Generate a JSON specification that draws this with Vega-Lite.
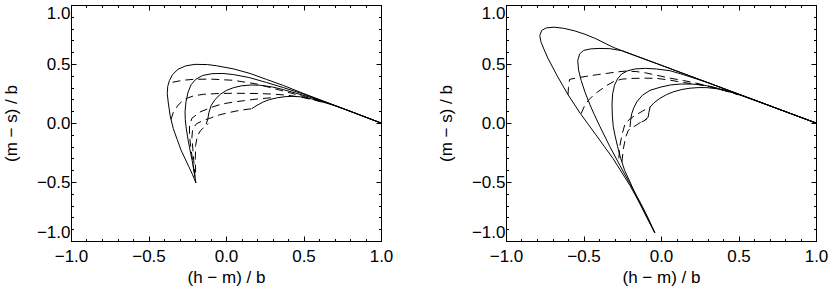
{
  "$schema": "https://vega.github.io/schema/vega-lite/v6.json",
  "autosize": {"type": "pad"},
  "padding": {"left": 1, "top": 3, "right": 5, "bottom": 0},
  "bounds": "flush",
  "spacing": 125,
  "config": {
    "view": {"stroke": "black", "strokeWidth": 1},
    "axis": {
      "labelFont": "Liberation Sans", "labelFontSize": 17, "labelColor": "black",
      "titleFont": "Liberation Sans", "titleFontSize": 17, "titleFontWeight": "normal", "titleColor": "black",
      "domainColor": "black", "tickColor": "black", "domainWidth": 1, "tickWidth": 1,
      "grid": false, "labelOverlap": false
    }
  },
  "data": {"values": [
    {"p":"L","c":"LA","s":"solid","i":0,"x":-0.194,"y":-0.508},
    {"p":"L","c":"LA","s":"solid","i":1,"x":-0.215,"y":-0.44},
    {"p":"L","c":"LA","s":"solid","i":2,"x":-0.24,"y":-0.37},
    {"p":"L","c":"LA","s":"solid","i":3,"x":-0.265,"y":-0.3},
    {"p":"L","c":"LA","s":"solid","i":4,"x":-0.29,"y":-0.23},
    {"p":"L","c":"LA","s":"solid","i":5,"x":-0.315,"y":-0.14},
    {"p":"L","c":"LA","s":"solid","i":6,"x":-0.34,"y":-0.048},
    {"p":"L","c":"LA","s":"solid","i":7,"x":-0.36,"y":0.06},
    {"p":"L","c":"LA","s":"solid","i":8,"x":-0.373,"y":0.178},
    {"p":"L","c":"LA","s":"solid","i":9,"x":-0.379,"y":0.25},
    {"p":"L","c":"LA","s":"solid","i":10,"x":-0.376,"y":0.31},
    {"p":"L","c":"LA","s":"solid","i":11,"x":-0.365,"y":0.36},
    {"p":"L","c":"LA","s":"solid","i":12,"x":-0.345,"y":0.41},
    {"p":"L","c":"LA","s":"solid","i":13,"x":-0.31,"y":0.455},
    {"p":"L","c":"LA","s":"solid","i":14,"x":-0.26,"y":0.484},
    {"p":"L","c":"LA","s":"solid","i":15,"x":-0.2,"y":0.497},
    {"p":"L","c":"LA","s":"solid","i":16,"x":-0.12,"y":0.495},
    {"p":"L","c":"LA","s":"solid","i":17,"x":-0.06,"y":0.485},
    {"p":"L","c":"LA","s":"solid","i":18,"x":0.05,"y":0.458},
    {"p":"L","c":"LA","s":"solid","i":19,"x":0.155,"y":0.42},
    {"p":"L","c":"LA","s":"solid","i":20,"x":0.26,"y":0.37},
    {"p":"L","c":"LA","s":"solid","i":21,"x":0.37,"y":0.318},
    {"p":"L","c":"LA","s":"solid","i":22,"x":0.5,"y":0.25},
    {"p":"L","c":"LA","s":"solid","i":23,"x":0.6,"y":0.2},
    {"p":"L","c":"LA","s":"solid","i":24,"x":0.8,"y":0.1},
    {"p":"L","c":"LA","s":"solid","i":25,"x":1.0,"y":0.0},

    {"p":"L","c":"LB","s":"solid","i":0,"x":-0.194,"y":-0.508},
    {"p":"L","c":"LB","s":"solid","i":1,"x":-0.205,"y":-0.42},
    {"p":"L","c":"LB","s":"solid","i":2,"x":-0.218,"y":-0.32},
    {"p":"L","c":"LB","s":"solid","i":3,"x":-0.232,"y":-0.23},
    {"p":"L","c":"LB","s":"solid","i":4,"x":-0.245,"y":-0.14},
    {"p":"L","c":"LB","s":"solid","i":5,"x":-0.256,"y":-0.05},
    {"p":"L","c":"LB","s":"solid","i":6,"x":-0.263,"y":0.03},
    {"p":"L","c":"LB","s":"solid","i":7,"x":-0.264,"y":0.1},
    {"p":"L","c":"LB","s":"solid","i":8,"x":-0.258,"y":0.18},
    {"p":"L","c":"LB","s":"solid","i":9,"x":-0.245,"y":0.26},
    {"p":"L","c":"LB","s":"solid","i":10,"x":-0.225,"y":0.325},
    {"p":"L","c":"LB","s":"solid","i":11,"x":-0.195,"y":0.37},
    {"p":"L","c":"LB","s":"solid","i":12,"x":-0.15,"y":0.403},
    {"p":"L","c":"LB","s":"solid","i":13,"x":-0.09,"y":0.418},
    {"p":"L","c":"LB","s":"solid","i":14,"x":-0.02,"y":0.42},
    {"p":"L","c":"LB","s":"solid","i":15,"x":0.05,"y":0.41},
    {"p":"L","c":"LB","s":"solid","i":16,"x":0.15,"y":0.385},
    {"p":"L","c":"LB","s":"solid","i":17,"x":0.262,"y":0.343},
    {"p":"L","c":"LB","s":"solid","i":18,"x":0.37,"y":0.3},
    {"p":"L","c":"LB","s":"solid","i":19,"x":0.477,"y":0.255},
    {"p":"L","c":"LB","s":"solid","i":20,"x":0.6,"y":0.198},
    {"p":"L","c":"LB","s":"solid","i":21,"x":0.75,"y":0.125},
    {"p":"L","c":"LB","s":"solid","i":22,"x":1.0,"y":0.0},

    {"p":"L","c":"LC","s":"solid","i":0,"x":-0.128,"y":-0.01},
    {"p":"L","c":"LC","s":"solid","i":1,"x":-0.118,"y":0.03},
    {"p":"L","c":"LC","s":"solid","i":2,"x":-0.11,"y":0.09},
    {"p":"L","c":"LC","s":"solid","i":3,"x":-0.095,"y":0.15},
    {"p":"L","c":"LC","s":"solid","i":4,"x":-0.07,"y":0.2},
    {"p":"L","c":"LC","s":"solid","i":5,"x":-0.035,"y":0.245},
    {"p":"L","c":"LC","s":"solid","i":6,"x":0.004,"y":0.277},
    {"p":"L","c":"LC","s":"solid","i":7,"x":0.05,"y":0.3},
    {"p":"L","c":"LC","s":"solid","i":8,"x":0.1,"y":0.315},
    {"p":"L","c":"LC","s":"solid","i":9,"x":0.16,"y":0.322},
    {"p":"L","c":"LC","s":"solid","i":10,"x":0.22,"y":0.32},
    {"p":"L","c":"LC","s":"solid","i":11,"x":0.3,"y":0.305},
    {"p":"L","c":"LC","s":"solid","i":12,"x":0.37,"y":0.283},
    {"p":"L","c":"LC","s":"solid","i":13,"x":0.45,"y":0.253},
    {"p":"L","c":"LC","s":"solid","i":14,"x":0.55,"y":0.215},
    {"p":"L","c":"LC","s":"solid","i":15,"x":0.65,"y":0.172},
    {"p":"L","c":"LC","s":"solid","i":16,"x":0.8,"y":0.1},
    {"p":"L","c":"LC","s":"solid","i":17,"x":1.0,"y":0.0},

    {"p":"L","c":"LD","s":"solid","i":0,"x":0.166,"y":0.121},
    {"p":"L","c":"LD","s":"solid","i":1,"x":0.2,"y":0.15},
    {"p":"L","c":"LD","s":"solid","i":2,"x":0.24,"y":0.178},
    {"p":"L","c":"LD","s":"solid","i":3,"x":0.28,"y":0.198},
    {"p":"L","c":"LD","s":"solid","i":4,"x":0.327,"y":0.213},
    {"p":"L","c":"LD","s":"solid","i":5,"x":0.38,"y":0.223},
    {"p":"L","c":"LD","s":"solid","i":6,"x":0.43,"y":0.226},
    {"p":"L","c":"LD","s":"solid","i":7,"x":0.48,"y":0.222},
    {"p":"L","c":"LD","s":"solid","i":8,"x":0.55,"y":0.205},
    {"p":"L","c":"LD","s":"solid","i":9,"x":0.61,"y":0.183},
    {"p":"L","c":"LD","s":"solid","i":10,"x":0.7,"y":0.148},
    {"p":"L","c":"LD","s":"solid","i":11,"x":0.8,"y":0.1},
    {"p":"L","c":"LD","s":"solid","i":12,"x":1.0,"y":0.0},

    {"p":"L","c":"Ld1","s":"dashed","i":0,"x":-0.345,"y":0.345},
    {"p":"L","c":"Ld1","s":"dashed","i":1,"x":-0.28,"y":0.362},
    {"p":"L","c":"Ld1","s":"dashed","i":2,"x":-0.211,"y":0.37},
    {"p":"L","c":"Ld1","s":"dashed","i":3,"x":-0.1,"y":0.372},
    {"p":"L","c":"Ld1","s":"dashed","i":4,"x":0.047,"y":0.362},
    {"p":"L","c":"Ld1","s":"dashed","i":5,"x":0.2,"y":0.33},
    {"p":"L","c":"Ld1","s":"dashed","i":6,"x":0.3,"y":0.295},
    {"p":"L","c":"Ld1","s":"dashed","i":7,"x":0.4,"y":0.26},
    {"p":"L","c":"Ld1","s":"dashed","i":8,"x":0.5,"y":0.225},
    {"p":"L","c":"Ld1","s":"dashed","i":9,"x":0.62,"y":0.182},

    {"p":"L","c":"Ld2","s":"dashed","i":0,"x":-0.355,"y":0.03},
    {"p":"L","c":"Ld2","s":"dashed","i":1,"x":-0.34,"y":0.09},
    {"p":"L","c":"Ld2","s":"dashed","i":2,"x":-0.31,"y":0.15},
    {"p":"L","c":"Ld2","s":"dashed","i":3,"x":-0.27,"y":0.2},
    {"p":"L","c":"Ld2","s":"dashed","i":4,"x":-0.21,"y":0.23},
    {"p":"L","c":"Ld2","s":"dashed","i":5,"x":-0.146,"y":0.243},
    {"p":"L","c":"Ld2","s":"dashed","i":6,"x":-0.05,"y":0.25},
    {"p":"L","c":"Ld2","s":"dashed","i":7,"x":0.047,"y":0.252},
    {"p":"L","c":"Ld2","s":"dashed","i":8,"x":0.2,"y":0.25},
    {"p":"L","c":"Ld2","s":"dashed","i":9,"x":0.3,"y":0.245},
    {"p":"L","c":"Ld2","s":"dashed","i":10,"x":0.4,"y":0.235},
    {"p":"L","c":"Ld2","s":"dashed","i":11,"x":0.5,"y":0.215},
    {"p":"L","c":"Ld2","s":"dashed","i":12,"x":0.62,"y":0.178},

    {"p":"L","c":"Ld3","s":"dashed","i":0,"x":-0.205,"y":-0.42},
    {"p":"L","c":"Ld3","s":"dashed","i":1,"x":-0.215,"y":-0.32},
    {"p":"L","c":"Ld3","s":"dashed","i":2,"x":-0.228,"y":-0.2},
    {"p":"L","c":"Ld3","s":"dashed","i":3,"x":-0.236,"y":-0.1},
    {"p":"L","c":"Ld3","s":"dashed","i":4,"x":-0.235,"y":-0.02},
    {"p":"L","c":"Ld3","s":"dashed","i":5,"x":-0.22,"y":0.04},
    {"p":"L","c":"Ld3","s":"dashed","i":6,"x":-0.168,"y":0.093},
    {"p":"L","c":"Ld3","s":"dashed","i":7,"x":-0.1,"y":0.13},
    {"p":"L","c":"Ld3","s":"dashed","i":8,"x":-0.03,"y":0.16},
    {"p":"L","c":"Ld3","s":"dashed","i":9,"x":0.05,"y":0.178},
    {"p":"L","c":"Ld3","s":"dashed","i":10,"x":0.12,"y":0.19},
    {"p":"L","c":"Ld3","s":"dashed","i":11,"x":0.2,"y":0.203},
    {"p":"L","c":"Ld3","s":"dashed","i":12,"x":0.3,"y":0.215},

    {"p":"L","c":"Ld4","s":"dashed","i":0,"x":-0.2,"y":-0.46},
    {"p":"L","c":"Ld4","s":"dashed","i":1,"x":-0.207,"y":-0.34},
    {"p":"L","c":"Ld4","s":"dashed","i":2,"x":-0.214,"y":-0.22},
    {"p":"L","c":"Ld4","s":"dashed","i":3,"x":-0.22,"y":-0.12},
    {"p":"L","c":"Ld4","s":"dashed","i":4,"x":-0.215,"y":-0.05},
    {"p":"L","c":"Ld4","s":"dashed","i":5,"x":-0.19,"y":-0.006},
    {"p":"L","c":"Ld4","s":"dashed","i":6,"x":-0.146,"y":0.022},
    {"p":"L","c":"Ld4","s":"dashed","i":7,"x":-0.1,"y":0.042},
    {"p":"L","c":"Ld4","s":"dashed","i":8,"x":-0.04,"y":0.07},
    {"p":"L","c":"Ld4","s":"dashed","i":9,"x":0.025,"y":0.09},
    {"p":"L","c":"Ld4","s":"dashed","i":10,"x":0.09,"y":0.108},
    {"p":"L","c":"Ld4","s":"dashed","i":11,"x":0.166,"y":0.121},

    {"p":"L","c":"Ld5","s":"dashed","i":0,"x":-0.196,"y":-0.42},
    {"p":"L","c":"Ld5","s":"dashed","i":1,"x":-0.198,"y":-0.3},
    {"p":"L","c":"Ld5","s":"dashed","i":2,"x":-0.196,"y":-0.19},
    {"p":"L","c":"Ld5","s":"dashed","i":3,"x":-0.185,"y":-0.11},
    {"p":"L","c":"Ld5","s":"dashed","i":4,"x":-0.165,"y":-0.065},
    {"p":"L","c":"Ld5","s":"dashed","i":5,"x":-0.14,"y":-0.035},
    {"p":"L","c":"Ld5","s":"dashed","i":6,"x":-0.114,"y":-0.006},

    {"p":"R","c":"RA","s":"solid","i":0,"x":-0.04,"y":-0.93},
    {"p":"R","c":"RA","s":"solid","i":1,"x":-0.08,"y":-0.825},
    {"p":"R","c":"RA","s":"solid","i":2,"x":-0.12,"y":-0.72},
    {"p":"R","c":"RA","s":"solid","i":3,"x":-0.16,"y":-0.625},
    {"p":"R","c":"RA","s":"solid","i":4,"x":-0.2,"y":-0.53},
    {"p":"R","c":"RA","s":"solid","i":5,"x":-0.255,"y":-0.415},
    {"p":"R","c":"RA","s":"solid","i":6,"x":-0.31,"y":-0.3},
    {"p":"R","c":"RA","s":"solid","i":7,"x":-0.365,"y":-0.2},
    {"p":"R","c":"RA","s":"solid","i":8,"x":-0.42,"y":-0.1},
    {"p":"R","c":"RA","s":"solid","i":9,"x":-0.47,"y":-0.01},
    {"p":"R","c":"RA","s":"solid","i":10,"x":-0.52,"y":0.08},
    {"p":"R","c":"RA","s":"solid","i":11,"x":-0.56,"y":0.16},
    {"p":"R","c":"RA","s":"solid","i":12,"x":-0.6,"y":0.24},
    {"p":"R","c":"RA","s":"solid","i":13,"x":-0.635,"y":0.32},
    {"p":"R","c":"RA","s":"solid","i":14,"x":-0.67,"y":0.4},
    {"p":"R","c":"RA","s":"solid","i":15,"x":-0.7,"y":0.475},
    {"p":"R","c":"RA","s":"solid","i":16,"x":-0.73,"y":0.55},
    {"p":"R","c":"RA","s":"solid","i":17,"x":-0.755,"y":0.625},
    {"p":"R","c":"RA","s":"solid","i":18,"x":-0.775,"y":0.69},
    {"p":"R","c":"RA","s":"solid","i":19,"x":-0.782,"y":0.74},
    {"p":"R","c":"RA","s":"solid","i":20,"x":-0.77,"y":0.785},
    {"p":"R","c":"RA","s":"solid","i":21,"x":-0.74,"y":0.806},
    {"p":"R","c":"RA","s":"solid","i":22,"x":-0.69,"y":0.812},
    {"p":"R","c":"RA","s":"solid","i":23,"x":-0.63,"y":0.803},
    {"p":"R","c":"RA","s":"solid","i":24,"x":-0.56,"y":0.782},
    {"p":"R","c":"RA","s":"solid","i":25,"x":-0.49,"y":0.752},
    {"p":"R","c":"RA","s":"solid","i":26,"x":-0.42,"y":0.714},
    {"p":"R","c":"RA","s":"solid","i":27,"x":-0.35,"y":0.668},
    {"p":"R","c":"RA","s":"solid","i":28,"x":-0.3,"y":0.637},
    {"p":"R","c":"RA","s":"solid","i":29,"x":-0.254,"y":0.614},
    {"p":"R","c":"RA","s":"solid","i":30,"x":0.0,"y":0.49},
    {"p":"R","c":"RA","s":"solid","i":31,"x":0.5,"y":0.245},
    {"p":"R","c":"RA","s":"solid","i":32,"x":1.0,"y":0.0},

    {"p":"R","c":"RB","s":"solid","i":0,"x":-0.04,"y":-0.93},
    {"p":"R","c":"RB","s":"solid","i":1,"x":-0.085,"y":-0.8},
    {"p":"R","c":"RB","s":"solid","i":2,"x":-0.135,"y":-0.67},
    {"p":"R","c":"RB","s":"solid","i":3,"x":-0.2,"y":-0.515},
    {"p":"R","c":"RB","s":"solid","i":4,"x":-0.265,"y":-0.36},
    {"p":"R","c":"RB","s":"solid","i":5,"x":-0.33,"y":-0.2},
    {"p":"R","c":"RB","s":"solid","i":6,"x":-0.394,"y":-0.03},
    {"p":"R","c":"RB","s":"solid","i":7,"x":-0.43,"y":0.07},
    {"p":"R","c":"RB","s":"solid","i":8,"x":-0.46,"y":0.16},
    {"p":"R","c":"RB","s":"solid","i":9,"x":-0.49,"y":0.26},
    {"p":"R","c":"RB","s":"solid","i":10,"x":-0.515,"y":0.36},
    {"p":"R","c":"RB","s":"solid","i":11,"x":-0.532,"y":0.45},
    {"p":"R","c":"RB","s":"solid","i":12,"x":-0.537,"y":0.53},
    {"p":"R","c":"RB","s":"solid","i":13,"x":-0.525,"y":0.585},
    {"p":"R","c":"RB","s":"solid","i":14,"x":-0.5,"y":0.615},
    {"p":"R","c":"RB","s":"solid","i":15,"x":-0.455,"y":0.628},
    {"p":"R","c":"RB","s":"solid","i":16,"x":-0.4,"y":0.632},
    {"p":"R","c":"RB","s":"solid","i":17,"x":-0.33,"y":0.63},
    {"p":"R","c":"RB","s":"solid","i":18,"x":-0.254,"y":0.613},
    {"p":"R","c":"RB","s":"solid","i":19,"x":0.0,"y":0.49},
    {"p":"R","c":"RB","s":"solid","i":20,"x":0.5,"y":0.245},
    {"p":"R","c":"RB","s":"solid","i":21,"x":1.0,"y":0.0},

    {"p":"R","c":"RC","s":"solid","i":0,"x":-0.04,"y":-0.93},
    {"p":"R","c":"RC","s":"solid","i":1,"x":-0.092,"y":-0.8},
    {"p":"R","c":"RC","s":"solid","i":2,"x":-0.145,"y":-0.66},
    {"p":"R","c":"RC","s":"solid","i":3,"x":-0.2,"y":-0.5},
    {"p":"R","c":"RC","s":"solid","i":4,"x":-0.235,"y":-0.4},
    {"p":"R","c":"RC","s":"solid","i":5,"x":-0.26,"y":-0.3},
    {"p":"R","c":"RC","s":"solid","i":6,"x":-0.28,"y":-0.2},
    {"p":"R","c":"RC","s":"solid","i":7,"x":-0.296,"y":-0.11},
    {"p":"R","c":"RC","s":"solid","i":8,"x":-0.308,"y":-0.03},
    {"p":"R","c":"RC","s":"solid","i":9,"x":-0.314,"y":0.06},
    {"p":"R","c":"RC","s":"solid","i":10,"x":-0.316,"y":0.16},
    {"p":"R","c":"RC","s":"solid","i":11,"x":-0.312,"y":0.248},
    {"p":"R","c":"RC","s":"solid","i":12,"x":-0.3,"y":0.32},
    {"p":"R","c":"RC","s":"solid","i":13,"x":-0.28,"y":0.375},
    {"p":"R","c":"RC","s":"solid","i":14,"x":-0.254,"y":0.415},
    {"p":"R","c":"RC","s":"solid","i":15,"x":-0.215,"y":0.443},
    {"p":"R","c":"RC","s":"solid","i":16,"x":-0.168,"y":0.458},
    {"p":"R","c":"RC","s":"solid","i":17,"x":-0.1,"y":0.463},
    {"p":"R","c":"RC","s":"solid","i":18,"x":-0.03,"y":0.458},
    {"p":"R","c":"RC","s":"solid","i":19,"x":0.058,"y":0.443},
    {"p":"R","c":"RC","s":"solid","i":20,"x":0.144,"y":0.41},
    {"p":"R","c":"RC","s":"solid","i":21,"x":0.3,"y":0.343},
    {"p":"R","c":"RC","s":"solid","i":22,"x":0.5,"y":0.245},
    {"p":"R","c":"RC","s":"solid","i":23,"x":1.0,"y":0.0},

    {"p":"R","c":"RD","s":"solid","i":0,"x":-0.2,"y":-0.034},
    {"p":"R","c":"RD","s":"solid","i":1,"x":-0.196,"y":0.02},
    {"p":"R","c":"RD","s":"solid","i":2,"x":-0.189,"y":0.079},
    {"p":"R","c":"RD","s":"solid","i":3,"x":-0.175,"y":0.13},
    {"p":"R","c":"RD","s":"solid","i":4,"x":-0.157,"y":0.178},
    {"p":"R","c":"RD","s":"solid","i":5,"x":-0.12,"y":0.235},
    {"p":"R","c":"RD","s":"solid","i":6,"x":-0.071,"y":0.277},
    {"p":"R","c":"RD","s":"solid","i":7,"x":0.0,"y":0.305},
    {"p":"R","c":"RD","s":"solid","i":8,"x":0.06,"y":0.322},
    {"p":"R","c":"RD","s":"solid","i":9,"x":0.123,"y":0.33},
    {"p":"R","c":"RD","s":"solid","i":10,"x":0.2,"y":0.33},
    {"p":"R","c":"RD","s":"solid","i":11,"x":0.27,"y":0.322},
    {"p":"R","c":"RD","s":"solid","i":12,"x":0.35,"y":0.3},
    {"p":"R","c":"RD","s":"solid","i":13,"x":0.43,"y":0.27},
    {"p":"R","c":"RD","s":"solid","i":14,"x":0.51,"y":0.238},
    {"p":"R","c":"RD","s":"solid","i":15,"x":1.0,"y":0.0},

    {"p":"R","c":"RE","s":"solid","i":0,"x":-0.125,"y":0.008},
    {"p":"R","c":"RE","s":"solid","i":1,"x":-0.1,"y":0.025},
    {"p":"R","c":"RE","s":"solid","i":2,"x":-0.083,"y":0.05},
    {"p":"R","c":"RE","s":"solid","i":3,"x":-0.078,"y":0.09},
    {"p":"R","c":"RE","s":"solid","i":4,"x":-0.07,"y":0.135},
    {"p":"R","c":"RE","s":"solid","i":5,"x":-0.045,"y":0.172},
    {"p":"R","c":"RE","s":"solid","i":6,"x":-0.006,"y":0.21},
    {"p":"R","c":"RE","s":"solid","i":7,"x":0.035,"y":0.24},
    {"p":"R","c":"RE","s":"solid","i":8,"x":0.079,"y":0.264},
    {"p":"R","c":"RE","s":"solid","i":9,"x":0.135,"y":0.284},
    {"p":"R","c":"RE","s":"solid","i":10,"x":0.187,"y":0.295},
    {"p":"R","c":"RE","s":"solid","i":11,"x":0.24,"y":0.3},
    {"p":"R","c":"RE","s":"solid","i":12,"x":0.295,"y":0.3},
    {"p":"R","c":"RE","s":"solid","i":13,"x":0.36,"y":0.29},
    {"p":"R","c":"RE","s":"solid","i":14,"x":0.42,"y":0.273},
    {"p":"R","c":"RE","s":"solid","i":15,"x":0.467,"y":0.256},
    {"p":"R","c":"RE","s":"solid","i":16,"x":0.53,"y":0.228},
    {"p":"R","c":"RE","s":"solid","i":17,"x":0.6,"y":0.196},
    {"p":"R","c":"RE","s":"solid","i":18,"x":1.0,"y":0.0},

    {"p":"R","c":"Rd1","s":"dashed","i":0,"x":-0.6,"y":0.24},
    {"p":"R","c":"Rd1","s":"dashed","i":1,"x":-0.597,"y":0.3},
    {"p":"R","c":"Rd1","s":"dashed","i":2,"x":-0.59,"y":0.37},
    {"p":"R","c":"Rd1","s":"dashed","i":3,"x":-0.53,"y":0.385},
    {"p":"R","c":"Rd1","s":"dashed","i":4,"x":-0.47,"y":0.398},
    {"p":"R","c":"Rd1","s":"dashed","i":5,"x":-0.41,"y":0.41},
    {"p":"R","c":"Rd1","s":"dashed","i":6,"x":-0.35,"y":0.42},
    {"p":"R","c":"Rd1","s":"dashed","i":7,"x":-0.29,"y":0.432},
    {"p":"R","c":"Rd1","s":"dashed","i":8,"x":-0.23,"y":0.44},
    {"p":"R","c":"Rd1","s":"dashed","i":9,"x":-0.16,"y":0.436},
    {"p":"R","c":"Rd1","s":"dashed","i":10,"x":-0.1,"y":0.425},
    {"p":"R","c":"Rd1","s":"dashed","i":11,"x":-0.028,"y":0.405},
    {"p":"R","c":"Rd1","s":"dashed","i":12,"x":0.05,"y":0.382},
    {"p":"R","c":"Rd1","s":"dashed","i":13,"x":0.144,"y":0.36},
    {"p":"R","c":"Rd1","s":"dashed","i":14,"x":0.22,"y":0.34},
    {"p":"R","c":"Rd1","s":"dashed","i":15,"x":0.3,"y":0.315},
    {"p":"R","c":"Rd1","s":"dashed","i":16,"x":0.4,"y":0.28},
    {"p":"R","c":"Rd1","s":"dashed","i":17,"x":0.5,"y":0.24},

    {"p":"R","c":"Rd2","s":"dashed","i":0,"x":-0.515,"y":0.08},
    {"p":"R","c":"Rd2","s":"dashed","i":1,"x":-0.495,"y":0.14},
    {"p":"R","c":"Rd2","s":"dashed","i":2,"x":-0.469,"y":0.192},
    {"p":"R","c":"Rd2","s":"dashed","i":3,"x":-0.44,"y":0.23},
    {"p":"R","c":"Rd2","s":"dashed","i":4,"x":-0.41,"y":0.262},
    {"p":"R","c":"Rd2","s":"dashed","i":5,"x":-0.35,"y":0.318},
    {"p":"R","c":"Rd2","s":"dashed","i":6,"x":-0.3,"y":0.355},
    {"p":"R","c":"Rd2","s":"dashed","i":7,"x":-0.25,"y":0.372},
    {"p":"R","c":"Rd2","s":"dashed","i":8,"x":-0.18,"y":0.378},
    {"p":"R","c":"Rd2","s":"dashed","i":9,"x":-0.1,"y":0.38},
    {"p":"R","c":"Rd2","s":"dashed","i":10,"x":-0.028,"y":0.378},
    {"p":"R","c":"Rd2","s":"dashed","i":11,"x":0.05,"y":0.365},
    {"p":"R","c":"Rd2","s":"dashed","i":12,"x":0.144,"y":0.343},
    {"p":"R","c":"Rd2","s":"dashed","i":13,"x":0.22,"y":0.33},
    {"p":"R","c":"Rd2","s":"dashed","i":14,"x":0.3,"y":0.312},
    {"p":"R","c":"Rd2","s":"dashed","i":15,"x":0.4,"y":0.278},
    {"p":"R","c":"Rd2","s":"dashed","i":16,"x":0.5,"y":0.24},

    {"p":"R","c":"Rd3","s":"dashed","i":0,"x":-0.272,"y":-0.3},
    {"p":"R","c":"Rd3","s":"dashed","i":1,"x":-0.266,"y":-0.2},
    {"p":"R","c":"Rd3","s":"dashed","i":2,"x":-0.252,"y":-0.1},
    {"p":"R","c":"Rd3","s":"dashed","i":3,"x":-0.232,"y":-0.006},
    {"p":"R","c":"Rd3","s":"dashed","i":4,"x":-0.2,"y":0.035},
    {"p":"R","c":"Rd3","s":"dashed","i":5,"x":-0.16,"y":0.07},
    {"p":"R","c":"Rd3","s":"dashed","i":6,"x":-0.12,"y":0.1},
    {"p":"R","c":"Rd3","s":"dashed","i":7,"x":-0.071,"y":0.136},

    {"p":"R","c":"Rd4","s":"dashed","i":0,"x":-0.252,"y":-0.33},
    {"p":"R","c":"Rd4","s":"dashed","i":1,"x":-0.243,"y":-0.22},
    {"p":"R","c":"Rd4","s":"dashed","i":2,"x":-0.228,"y":-0.12},
    {"p":"R","c":"Rd4","s":"dashed","i":3,"x":-0.211,"y":-0.062},
    {"p":"R","c":"Rd4","s":"dashed","i":4,"x":-0.18,"y":-0.035},
    {"p":"R","c":"Rd4","s":"dashed","i":5,"x":-0.15,"y":-0.01},
    {"p":"R","c":"Rd4","s":"dashed","i":6,"x":-0.12,"y":0.015},
    {"p":"R","c":"Rd4","s":"dashed","i":7,"x":-0.092,"y":0.036}
  ]},
  "hconcat": [
    {
      "width": 310, "height": 236,
      "transform": [{"filter": "datum.p == 'L'"}],
      "layer": [
        {
          "transform": [{"filter": "datum.s == 'solid'"}],
          "mark": {"type": "line", "color": "black", "strokeWidth": 1},
          "encoding": {
            "x": {"field": "x", "type": "quantitative", "scale": {"domain": [-1, 1], "nice": false, "zero": false},
              "axis": {"orient": "bottom", "title": "(h − m) / b", "values": [-1,-0.9,-0.8,-0.7,-0.6,-0.5,-0.4,-0.3,-0.2,-0.1,0,0.1,0.2,0.3,0.4,0.5,0.6,0.7,0.8,0.9,1],
                "labelExpr": "abs(datum.value*2-round(datum.value*2))<0.001 ? format(datum.value,'.1f') : ''",
                "tickSize": {"condition": {"test": "abs(datum.value*2-round(datum.value*2))<0.001", "value": -5}, "value": -2.5},
                "labelFlush": false, "labelPadding": 12, "titlePadding": 3}},
            "y": {"field": "y", "type": "quantitative", "scale": {"domain": [-1, 1], "nice": false, "zero": false},
              "axis": {"orient": "left", "title": "(m − s) / b", "values": [-1,-0.9,-0.8,-0.7,-0.6,-0.5,-0.4,-0.3,-0.2,-0.1,0,0.1,0.2,0.3,0.4,0.5,0.6,0.7,0.8,0.9,1],
                "labelExpr": "abs(datum.value*2-round(datum.value*2))<0.001 ? format(datum.value,'.1f') : ''",
                "tickSize": {"condition": {"test": "abs(datum.value*2-round(datum.value*2))<0.001", "value": -5}, "value": -2.5},
                "labelFlush": true, "labelPadding": 6, "titlePadding": 16}},
            "detail": {"field": "c"},
            "order": {"field": "i", "type": "quantitative"}
          }
        },
        {
          "transform": [{"filter": "datum.s == 'dashed'"}],
          "mark": {"type": "line", "color": "black", "strokeWidth": 1, "strokeDash": [8, 5]},
          "encoding": {
            "x": {"field": "x", "type": "quantitative", "scale": {"domain": [-1, 1], "nice": false, "zero": false},
              "axis": {"orient": "top", "title": null, "labels": false, "values": [-1,-0.9,-0.8,-0.7,-0.6,-0.5,-0.4,-0.3,-0.2,-0.1,0,0.1,0.2,0.3,0.4,0.5,0.6,0.7,0.8,0.9,1],
                "tickSize": {"condition": {"test": "abs(datum.value*2-round(datum.value*2))<0.001", "value": -5}, "value": -2.5}}},
            "y": {"field": "y", "type": "quantitative", "scale": {"domain": [-1, 1], "nice": false, "zero": false},
              "axis": {"orient": "right", "title": null, "labels": false, "values": [-1,-0.9,-0.8,-0.7,-0.6,-0.5,-0.4,-0.3,-0.2,-0.1,0,0.1,0.2,0.3,0.4,0.5,0.6,0.7,0.8,0.9,1],
                "tickSize": {"condition": {"test": "abs(datum.value*2-round(datum.value*2))<0.001", "value": -5}, "value": -2.5}}},
            "detail": {"field": "c"},
            "order": {"field": "i", "type": "quantitative"}
          }
        }
      ],
      "resolve": {"scale": {"x": "shared", "y": "shared"}, "axis": {"x": "independent", "y": "independent"}}
    },
    {
      "width": 310, "height": 236,
      "transform": [{"filter": "datum.p == 'R'"}],
      "layer": [
        {
          "transform": [{"filter": "datum.s == 'solid'"}],
          "mark": {"type": "line", "color": "black", "strokeWidth": 1},
          "encoding": {
            "x": {"field": "x", "type": "quantitative", "scale": {"domain": [-1, 1], "nice": false, "zero": false},
              "axis": {"orient": "bottom", "title": "(h − m) / b", "values": [-1,-0.9,-0.8,-0.7,-0.6,-0.5,-0.4,-0.3,-0.2,-0.1,0,0.1,0.2,0.3,0.4,0.5,0.6,0.7,0.8,0.9,1],
                "labelExpr": "abs(datum.value*2-round(datum.value*2))<0.001 ? format(datum.value,'.1f') : ''",
                "tickSize": {"condition": {"test": "abs(datum.value*2-round(datum.value*2))<0.001", "value": -5}, "value": -2.5},
                "labelFlush": false, "labelPadding": 12, "titlePadding": 3}},
            "y": {"field": "y", "type": "quantitative", "scale": {"domain": [-1, 1], "nice": false, "zero": false},
              "axis": {"orient": "left", "title": "(m − s) / b", "values": [-1,-0.9,-0.8,-0.7,-0.6,-0.5,-0.4,-0.3,-0.2,-0.1,0,0.1,0.2,0.3,0.4,0.5,0.6,0.7,0.8,0.9,1],
                "labelExpr": "abs(datum.value*2-round(datum.value*2))<0.001 ? format(datum.value,'.1f') : ''",
                "tickSize": {"condition": {"test": "abs(datum.value*2-round(datum.value*2))<0.001", "value": -5}, "value": -2.5},
                "labelFlush": true, "labelPadding": 6, "titlePadding": 16}},
            "detail": {"field": "c"},
            "order": {"field": "i", "type": "quantitative"}
          }
        },
        {
          "transform": [{"filter": "datum.s == 'dashed'"}],
          "mark": {"type": "line", "color": "black", "strokeWidth": 1, "strokeDash": [8, 5]},
          "encoding": {
            "x": {"field": "x", "type": "quantitative", "scale": {"domain": [-1, 1], "nice": false, "zero": false},
              "axis": {"orient": "top", "title": null, "labels": false, "values": [-1,-0.9,-0.8,-0.7,-0.6,-0.5,-0.4,-0.3,-0.2,-0.1,0,0.1,0.2,0.3,0.4,0.5,0.6,0.7,0.8,0.9,1],
                "tickSize": {"condition": {"test": "abs(datum.value*2-round(datum.value*2))<0.001", "value": -5}, "value": -2.5}}},
            "y": {"field": "y", "type": "quantitative", "scale": {"domain": [-1, 1], "nice": false, "zero": false},
              "axis": {"orient": "right", "title": null, "labels": false, "values": [-1,-0.9,-0.8,-0.7,-0.6,-0.5,-0.4,-0.3,-0.2,-0.1,0,0.1,0.2,0.3,0.4,0.5,0.6,0.7,0.8,0.9,1],
                "tickSize": {"condition": {"test": "abs(datum.value*2-round(datum.value*2))<0.001", "value": -5}, "value": -2.5}}},
            "detail": {"field": "c"},
            "order": {"field": "i", "type": "quantitative"}
          }
        }
      ],
      "resolve": {"scale": {"x": "shared", "y": "shared"}, "axis": {"x": "independent", "y": "independent"}}
    }
  ]
}
